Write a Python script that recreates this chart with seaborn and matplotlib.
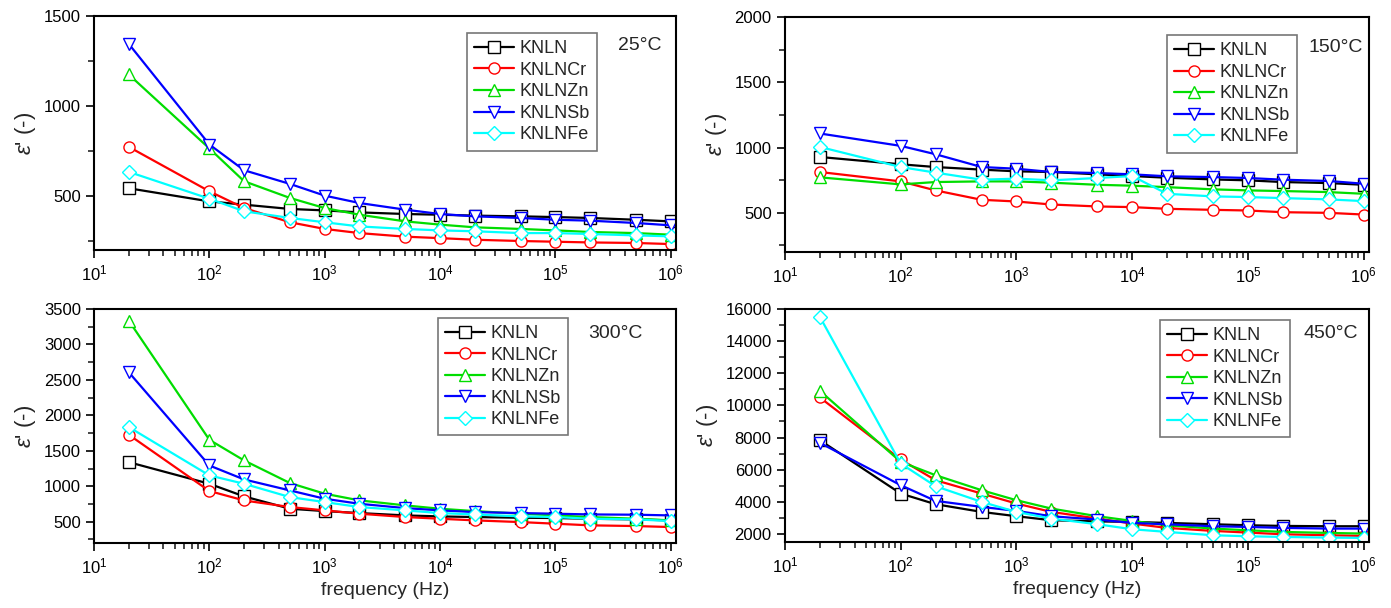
import numpy as np
import pandas as pd
import seaborn as sns
import matplotlib
matplotlib.use("Agg")
import matplotlib.pyplot as plt
from matplotlib.ticker import MultipleLocator, LogLocator, NullFormatter

# measurement frequencies (Hz)
freq = [20, 100, 200, 500, 1e3, 2e3, 5e3, 1e4, 2e4, 5e4, 1e5, 2e5, 5e5, 1e6]
samples = ["KNLN", "KNLNCr", "KNLNZn", "KNLNSb", "KNLNFe"]

# 25 C
eps_25_knln = [543, 470, 452, 428, 420, 409, 400, 396, 391, 387, 383, 378, 368, 359]
eps_25_cr = [773, 526, 433, 354, 317, 294, 274, 266, 257, 250, 246, 242, 239, 233]
eps_25_zn = [1175, 764, 582, 489, 433, 396, 359, 341, 326, 317, 309, 300, 294, 285]
eps_25_sb = [1345, 786, 643, 567, 502, 461, 424, 400, 387, 378, 368, 363, 350, 337]
eps_25_fe = [634, 485, 415, 378, 354, 331, 317, 309, 304, 294, 294, 289, 281, 276]

# 150 C
eps_150_knln = [928, 872, 851, 831, 818, 813, 795, 782, 769, 756, 749, 736, 728, 715]
eps_150_cr = [813, 741, 672, 600, 587, 564, 549, 544, 531, 523, 518, 505, 500, 487]
eps_150_zn = [772, 718, 736, 741, 741, 731, 715, 708, 697, 680, 672, 667, 659, 646]
eps_150_sb = [1108, 1013, 949, 851, 838, 813, 805, 795, 780, 774, 767, 754, 744, 723]
eps_150_fe = [1005, 851, 808, 754, 762, 749, 767, 782, 646, 626, 621, 613, 603, 590]

# 300 C
eps_300_knln = [1340, 1035, 857, 683, 650, 622, 589, 575, 566, 556, 552, 542, 533, 519]
eps_300_cr = [1727, 933, 800, 707, 660, 613, 566, 542, 519, 495, 472, 449, 439, 425]
eps_300_zn = [3336, 1655, 1364, 1045, 895, 801, 730, 683, 650, 613, 589, 566, 542, 519]
eps_300_sb = [2608, 1293, 1096, 941, 824, 753, 692, 660, 636, 622, 613, 603, 599, 589]
eps_300_fe = [1835, 1153, 1035, 847, 777, 707, 660, 622, 603, 575, 566, 542, 533, 509]

# 450 C
eps_450_knln = [7838, 4514, 3850, 3372, 3102, 2853, 2780, 2750, 2686, 2603, 2541, 2500, 2479, 2479]
eps_450_cr = [10496, 6633, 5345, 4514, 3891, 3372, 2957, 2645, 2375, 2188, 2084, 1980, 1918, 1876]
eps_450_zn = [10911, 6487, 5657, 4722, 4099, 3580, 3102, 2811, 2541, 2333, 2229, 2126, 2063, 2022]
eps_450_sb = [7671, 5034, 4057, 3683, 3434, 3102, 2894, 2686, 2603, 2479, 2437, 2375, 2333, 2333]
eps_450_fe = [15522, 6383, 4971, 3995, 3372, 2957, 2603, 2292, 2126, 1918, 1855, 1814, 1772, 1752]

panels = [
    ("25°C", [eps_25_knln, eps_25_cr, eps_25_zn, eps_25_sb, eps_25_fe]),
    ("150°C", [eps_150_knln, eps_150_cr, eps_150_zn, eps_150_sb, eps_150_fe]),
    ("300°C", [eps_300_knln, eps_300_cr, eps_300_zn, eps_300_sb, eps_300_fe]),
    ("450°C", [eps_450_knln, eps_450_cr, eps_450_zn, eps_450_sb, eps_450_fe]),
]

sns.set_theme(style="ticks")
plt.rcParams['font.family'] = ['Liberation Sans', 'DejaVu Sans']
plt.rcParams['mathtext.fontset'] = 'custom'
plt.rcParams['mathtext.rm'] = 'Liberation Sans'
plt.rcParams['mathtext.it'] = 'Liberation Sans:italic'

colors = ['#000000', '#ff0000', '#00dd00', '#0000ff', '#00ffff']
markers = ['s', 'o', '^', 'v', 'D']
msizes = [8, 8, 9, 9, 7]

fig = plt.figure(figsize=(13.91, 6.08), dpi=100)

# axes boxes [left, bottom, width, height] in figure fraction
boxes = [
    [0.0676, 0.5888, 0.4184, 0.3849],
    [0.5643, 0.5855, 0.4198, 0.3865],
    [0.0676, 0.1069, 0.4184, 0.3849],
    [0.5643, 0.1086, 0.4198, 0.3832],
]
ylims = [(200, 1500), (200, 2000), (200, 3500), (1500, 16000)]
ymajor = [500, 500, 500, 2000]
yminor = [250, 250, 250, 1000]
leg_anchor = [(0.641, 0.927), (0.654, 0.923), (0.591, 0.962), (0.642, 0.953)]
temp_pos = [(0.938, 0.875), (0.943, 0.87), (0.895, 0.895), (0.935, 0.895)]

for i, (temp, series) in enumerate(panels):
    ax = fig.add_axes(boxes[i])
    for name, vals, c, m, ms in zip(samples, series, colors, markers, msizes):
        df = pd.DataFrame({'freq': freq, 'eps': vals})
        sns.lineplot(data=df, x='freq', y='eps', ax=ax, color=c, marker=m,
                     markersize=ms, linewidth=1.6,
                     markerfacecolor='white', markeredgecolor=c,
                     markeredgewidth=1.0, label=name)
    ax.set_xscale('log')
    ax.set_xlim(10, 1.11e6)
    ax.set_ylim(*ylims[i])
    ax.yaxis.set_major_locator(MultipleLocator(ymajor[i]))
    ax.yaxis.set_minor_locator(MultipleLocator(yminor[i]))
    ax.xaxis.set_major_locator(LogLocator(base=10, numticks=10))
    ax.xaxis.set_minor_locator(LogLocator(base=10, subs=np.arange(2, 10), numticks=10))
    ax.xaxis.set_minor_formatter(NullFormatter())
    ax.tick_params(axis='both', which='major', direction='out', length=6, width=1.2,
                   labelsize=12, colors='black')
    ax.tick_params(axis='both', which='minor', direction='out', length=4, width=1.2)
    for sp in ax.spines.values():
        sp.set_linewidth(1.5)
        sp.set_color('black')
    ax.set_ylabel(r"$\mathit{\varepsilon}$' (-)", fontsize=16, labelpad=4)
    if i >= 2:
        ax.set_xlabel('frequency (Hz)', fontsize=14)
    else:
        ax.set_xlabel('')
    leg = ax.legend(loc='upper left', bbox_to_anchor=leg_anchor[i], fontsize=13,
                    frameon=True, fancybox=False, edgecolor='#555555',
                    handlelength=2.2, handletextpad=0.3, labelspacing=0.25,
                    borderpad=0.4, borderaxespad=0)
    leg.get_frame().set_linewidth(1.2)
    ax.text(temp_pos[i][0], temp_pos[i][1], temp, transform=ax.transAxes,
            fontsize=14, ha='center', va='center')

fig.savefig('out.png', dpi=100)
